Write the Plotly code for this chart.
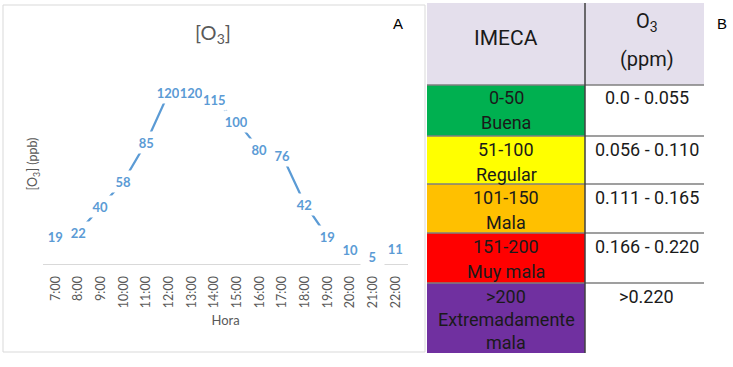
import plotly.graph_objects as go

# ---------------- data ----------------
hours = ["7:00", "8:00", "9:00", "10:00", "11:00", "12:00", "13:00", "14:00",
         "15:00", "16:00", "17:00", "18:00", "19:00", "20:00", "21:00", "22:00"]
o3_ppb = [19, 22, 40, 58, 85, 120, 120, 115, 100, 80, 76, 42, 19, 10, 5, 11]

imeca_ranges = ["0-50", "51-100", "101-150", "151-200", ">200"]
imeca_labels = [["Buena"], ["Regular"], ["Mala"], ["Muy mala"], ["Extremadamente", "mala"]]
o3_ppm_ranges = ["0.0 - 0.055", "0.056 - 0.110", "0.111 - 0.165", "0.166 - 0.220", ">0.220"]
header_imeca = "IMECA"
header_o3 = ["O<sub>3</sub>", "(ppm)"]

# ---------------- styles / layout ----------------
row_colors = ["#00B050", "#FFFF00", "#FFC000", "#FF0000", "#7030A0"]
W, H = 733, 367


def px(x):
    return x / W


def py(y):
    return 1 - y / H


label_font = dict(family="Lato, Carlito, sans-serif", size=13, color="#5B9BD5")
grey_font = dict(family="Lato, Carlito, sans-serif", size=12.5, color="#595959")
table_font_family = "Roboto, sans-serif"

fig = go.Figure()
fig.add_trace(go.Scatter(
    x=hours, y=o3_ppb, mode="lines",
    line=dict(color="#5B9BD5", width=2.25),
    hoverinfo="skip", showlegend=False,
))

# data labels with white background (mask the line like Excel)
for h, v in zip(hours, o3_ppb):
    fig.add_annotation(
        x=h, y=v, xref="x", yref="y", text="<b>%d</b>" % v, showarrow=False,
        bgcolor="white", borderpad=0, width=22.5, height=21, font=label_font,
    )

shapes = []
# chart panel border
shapes.append(dict(type="rect", xref="paper", yref="paper",
                   x0=px(3), x1=px(425), y0=py(352), y1=py(5),
                   line=dict(color="#D9D9D9", width=1), fillcolor="rgba(0,0,0,0)", layer="below"))

# ---------------- table ----------------
tx0, tmid, tx1 = 427, 585, 704
row_edges = [85, 136, 184, 233, 283, 353]
shapes.append(dict(type="rect", xref="paper", yref="paper",
                   x0=px(tx0), x1=px(tx1), y0=py(row_edges[0]), y1=py(3),
                   fillcolor="#E4DFEC", line=dict(width=0)))
for i, col in enumerate(row_colors):
    shapes.append(dict(type="rect", xref="paper", yref="paper",
                       x0=px(tx0), x1=px(tmid), y0=py(row_edges[i + 1]), y1=py(row_edges[i]),
                       fillcolor=col, line=dict(width=0)))
for y in row_edges[:-1]:
    shapes.append(dict(type="line", xref="paper", yref="paper",
                       x0=px(tx0), x1=px(tx1), y0=py(y), y1=py(y),
                       line=dict(color="#7F7F7F", width=1.5)))
shapes.append(dict(type="line", xref="paper", yref="paper",
                   x0=px(tmid), x1=px(tmid), y0=py(row_edges[-1]), y1=py(3),
                   line=dict(color="#404040", width=1.5)))

annotations = []


def ptext(x, y, text, size=18, color="#1A1A1A", family=table_font_family):
    annotations.append(dict(x=px(x), y=py(y), xref="paper", yref="paper", text=text,
                            showarrow=False, xanchor="center", yanchor="middle",
                            font=dict(family=family, size=size, color=color)))


lcx = (tx0 + tmid) / 2
rcx = (tmid + tx1) / 2 + 2
ptext(lcx, 38, header_imeca, size=21)
ptext(rcx, 22, header_o3[0], size=20)
ptext(rcx, 59, header_o3[1], size=20)
for i in range(len(imeca_ranges)):
    top = row_edges[i]
    first = top + 13
    ptext(lcx, first, imeca_ranges[i])
    step = 25 if len(imeca_labels[i]) == 1 else 23
    for j, line in enumerate(imeca_labels[i]):
        ptext(lcx, first + step * (j + 1), line)
    ptext(rcx, first, o3_ppm_ranges[i])

# panel letters and title
ptext(398, 24, "A", size=15, color="#000000", family="Liberation Sans, Arial, sans-serif")
ptext(722, 24, "B", size=15, color="#000000", family="Liberation Sans, Arial, sans-serif")
ptext(213, 33, "[O<sub>3</sub>]", size=20, color="#595959", family="Lato, Carlito, sans-serif")

fig.update_layout(
    width=W, height=H,
    margin=dict(l=0, r=0, t=0, b=0),
    paper_bgcolor="white", plot_bgcolor="white",
    shapes=shapes, annotations=list(fig.layout.annotations) + annotations,
    xaxis=dict(
        domain=[px(43), px(408)], type="category",
        showline=True, linecolor="#D9D9D9", linewidth=1,
        showgrid=False, zeroline=False, ticks="",
        tickangle=-90, tickfont=grey_font, ticklabelstandoff=6,
        title=dict(text="Hora", font=dict(family="Lato, Carlito, sans-serif", size=13, color="#595959"), standoff=8),
        automargin=False, fixedrange=True,
    ),
    yaxis=dict(
        domain=[py(264), py(64)], range=[0, 140],
        showline=False, showgrid=False, zeroline=False, showticklabels=False, ticks="",
        title=dict(text="[O<sub>3</sub>] (ppb)", font=dict(family="Lato, Carlito, sans-serif", size=12.5, color="#595959"), standoff=1),
        automargin=False, fixedrange=True,
    ),
)

fig.write_html(
    "out.html",
    config={"displayModeBar": False},
    post_script="document.body.style.margin='0';document.body.style.padding='0';",
)
